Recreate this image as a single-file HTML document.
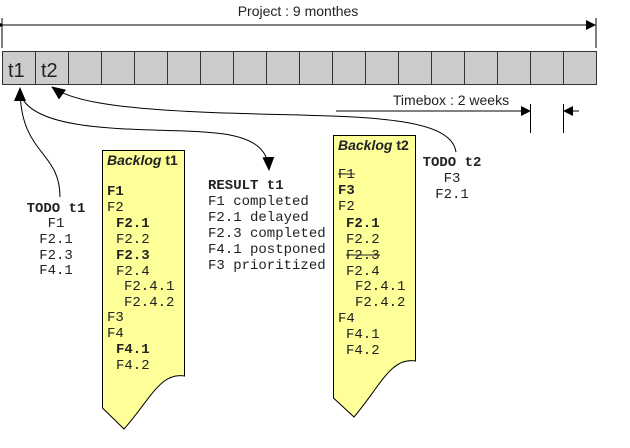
<!DOCTYPE html>
<html><head><meta charset="utf-8"><style>
body{margin:0;background:#fff}
svg{display:block}
.m{font-family:"Liberation Mono",monospace;font-size:14px;fill:#222}
.b{font-weight:bold}
.s{font-family:"Liberation Sans",sans-serif}
</style></head><body>
<svg width="630" height="448" viewBox="0 0 630 448">
<defs>
<marker id="a" markerWidth="10" markerHeight="10" refX="9" refY="5" orient="auto" markerUnits="userSpaceOnUse"><path d="M0,0 L10,5 L0,10 z" fill="#000"/></marker>
<marker id="a2" markerWidth="14" markerHeight="14" refX="13" refY="7" orient="auto" markerUnits="userSpaceOnUse"><path d="M0,1 L14,7 L0,13 z" fill="#000"/></marker>
</defs>
<text x="298" y="16" text-anchor="middle" class="s" font-size="14" fill="#222">Project : 9 monthes</text>
<line x1="2" y1="18" x2="2" y2="48" stroke="#000"/>
<line x1="596" y1="18" x2="596" y2="48" stroke="#000"/>
<line x1="3" y1="25" x2="595" y2="25" stroke="#000" marker-start="url(#a)" marker-end="url(#a)"/>
<rect x="2.5" y="51.5" width="594" height="33" fill="#cccccc" stroke="#333"/>
<g stroke="#333">
<line x1="35.5" y1="51" x2="35.5" y2="85"/><line x1="68.5" y1="51" x2="68.5" y2="85"/><line x1="101.5" y1="51" x2="101.5" y2="85"/><line x1="134.5" y1="51" x2="134.5" y2="85"/><line x1="167.5" y1="51" x2="167.5" y2="85"/><line x1="200.5" y1="51" x2="200.5" y2="85"/><line x1="233.5" y1="51" x2="233.5" y2="85"/><line x1="266.5" y1="51" x2="266.5" y2="85"/><line x1="299.5" y1="51" x2="299.5" y2="85"/><line x1="332.5" y1="51" x2="332.5" y2="85"/><line x1="365.5" y1="51" x2="365.5" y2="85"/><line x1="398.5" y1="51" x2="398.5" y2="85"/><line x1="431.5" y1="51" x2="431.5" y2="85"/><line x1="464.5" y1="51" x2="464.5" y2="85"/><line x1="497.5" y1="51" x2="497.5" y2="85"/><line x1="530.5" y1="51" x2="530.5" y2="85"/><line x1="563.5" y1="51" x2="563.5" y2="85"/>
</g>
<text x="8" y="77" class="s" font-size="20" fill="#222">t1</text>
<text x="41" y="77" class="s" font-size="20" fill="#222">t2</text>
<text x="451" y="105" text-anchor="middle" class="s" font-size="14" fill="#222">Timebox : 2 weeks</text>
<line x1="530.5" y1="104" x2="530.5" y2="133" stroke="#000"/>
<line x1="563.5" y1="104" x2="563.5" y2="133" stroke="#000"/>
<line x1="336" y1="111" x2="530" y2="111" stroke="#000" marker-end="url(#a)"/>
<line x1="579" y1="111" x2="564" y2="111" stroke="#000" marker-end="url(#a)"/>
<path d="M60,197 C60,150 20,155 20,88" fill="none" stroke="#000" marker-end="url(#a2)"/>
<path d="M21,96 C40,140 180,125 230,135 C255,140 268,150 269,170" fill="none" stroke="#000" marker-end="url(#a2)"/>
<path d="M456,152 C450,110 330,118 200,112 C110,108 70,100 52,87" fill="none" stroke="#000" marker-end="url(#a2)"/>
<path d="M102.5,150.5 H184.5 V376 C160,372 150,400 124,429 L102.5,408 Z" fill="#ffff99" stroke="#000"/>
<text x="107" y="165" class="s" font-size="14" font-weight="bold" fill="#222"><tspan font-style="italic">Backlog</tspan> t1</text>
<g class="m">
<text x="107" y="195" class="b">F1</text>
<text x="107" y="211">F2</text>
<text x="116" y="227" class="b">F2.1</text>
<text x="116" y="243">F2.2</text>
<text x="116" y="259" class="b">F2.3</text>
<text x="116" y="275">F2.4</text>
<text x="124" y="290">F2.4.1</text>
<text x="124" y="306">F2.4.2</text>
<text x="107" y="321">F3</text>
<text x="107" y="337">F4</text>
<text x="116" y="353" class="b">F4.1</text>
<text x="116" y="369">F4.2</text>
</g>
<g class="m">
<text x="208" y="189" class="b">RESULT t1</text>
<text x="208" y="205">F1 completed</text>
<text x="208" y="221">F2.1 delayed</text>
<text x="208" y="237">F2.3 completed</text>
<text x="208" y="253">F4.1 postponed</text>
<text x="208" y="269">F3 prioritized</text>
</g>
<g class="m" text-anchor="middle">
<text x="56" y="212" class="b">TODO t1</text>
<text x="56" y="227">F1</text>
<text x="56" y="243">F2.1</text>
<text x="56" y="259">F2.3</text>
<text x="56" y="274">F4.1</text>
</g>
<path d="M333.5,135.5 H415.5 V361 C391,357 381,385 354,417 L333.5,398 Z" fill="#ffff99" stroke="#000"/>
<text x="338" y="150" class="s" font-size="14" font-weight="bold" fill="#222"><tspan font-style="italic">Backlog</tspan> t2</text>
<g class="m">
<text x="338" y="178">F1</text>
<line x1="338" y1="174" x2="355" y2="174" stroke="#222"/>
<text x="338" y="194" class="b">F3</text>
<text x="338" y="210">F2</text>
<text x="346" y="227" class="b">F2.1</text>
<text x="346" y="243">F2.2</text>
<text x="346" y="259">F2.3</text>
<line x1="346" y1="255" x2="380" y2="255" stroke="#222"/>
<text x="346" y="275">F2.4</text>
<text x="355" y="290">F2.4.1</text>
<text x="355" y="306">F2.4.2</text>
<text x="338" y="322">F4</text>
<text x="346" y="338">F4.1</text>
<text x="346" y="354">F4.2</text>
</g>
<g class="m" text-anchor="middle">
<text x="452" y="166" class="b">TODO t2</text>
<text x="452" y="182">F3</text>
<text x="452" y="198">F2.1</text>
</g>
</svg>
</body></html>
